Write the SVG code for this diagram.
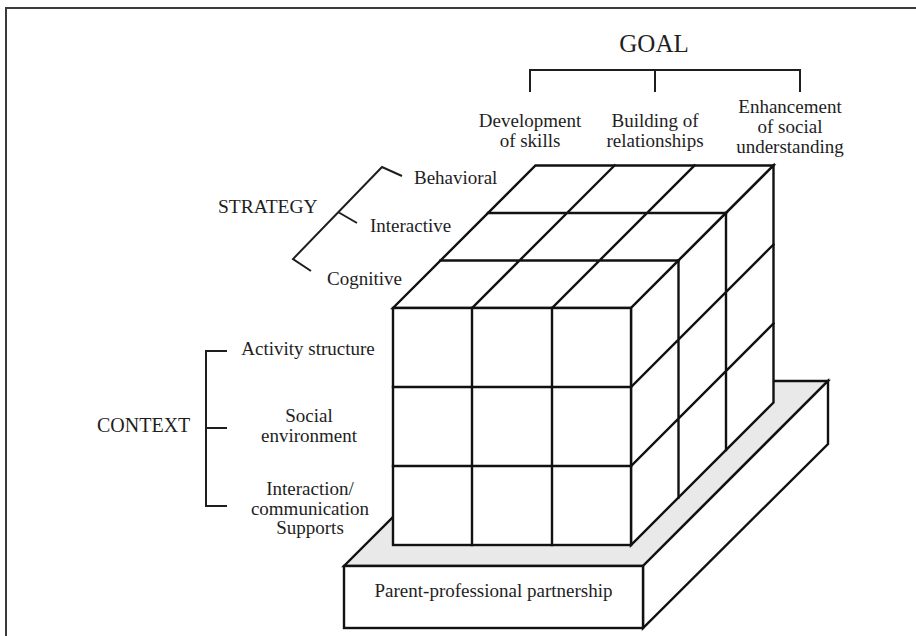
<svg xmlns="http://www.w3.org/2000/svg" width="916" height="636" viewBox="0 0 916 636">
  <style>
    .lbl { font-family: "Liberation Serif", "DejaVu Serif", serif; font-size: 19px; fill: #1e1e1e; }
    .mid { text-anchor: middle; }
    .head { font-family: "Liberation Serif", "DejaVu Serif", serif; fill: #1e1e1e; }
    .edge { fill: none; stroke: #111; stroke-width: 2.4; stroke-linejoin: miter; stroke-linecap: square; }
    .brk { fill: none; stroke: #1e1e1e; stroke-width: 2; }
    .face { fill: #ffffff; stroke: #111; stroke-width: 2.4; stroke-linejoin: miter; }
    .ledge { fill: #e9e9e9; stroke: #111; stroke-width: 2.4; stroke-linejoin: miter; }
  </style>

  <rect x="0" y="0" width="916" height="636" fill="#ffffff"/>
  <!-- page frame -->
  <path d="M6,636 V8 H916" fill="none" stroke="#3a3a3a" stroke-width="2"/>

  <!-- base platform -->
  <g id="base">
    <polygon class="ledge" points="344,566 643,566 828,381 529,381"/>
    <polygon class="face" points="643,566 828,381 828,444 643,628"/>
    <rect class="face" x="344" y="566" width="299" height="62"/>
    <text class="lbl mid" x="493.5" y="597">Parent-professional partnership</text>
  </g>

  <!-- 3x3x3 cube -->
  <g id="cube">
    <!-- faces -->
    <polygon class="face" points="393,308 631,308 773.5,165.5 535.5,165.5"/>
    <polygon class="face" points="631,308 773.5,165.5 773.5,402.5 631,545"/>
    <rect class="face" x="393" y="308" width="238" height="237"/>
    <!-- front face grid -->
    <path class="edge" d="M472,308 V545 M552,308 V545 M393,387 H631 M393,466 H631"/>
    <!-- top face grid -->
    <path class="edge" d="M440.5,260.5 H678.5 M488,213 H726 M472,308 L614.5,165.5 M552,308 L694.5,165.5"/>
    <!-- right face grid -->
    <path class="edge" d="M678.5,260.5 V497.5 M726,213 V450 M631,387 L773.5,244.5 M631,466 L773.5,323.5"/>
  </g>

  <!-- goal header -->
  <g id="goal">
    <text class="head mid" x="654" y="52" font-size="25">GOAL</text>
    <text class="lbl mid" x="530" y="127">Development</text>
    <text class="lbl mid" x="530" y="147">of skills</text>
    <text class="lbl mid" x="655" y="127">Building of</text>
    <text class="lbl mid" x="655" y="147">relationships</text>
    <text class="lbl mid" x="790" y="113">Enhancement</text>
    <text class="lbl mid" x="790" y="133">of social</text>
    <text class="lbl mid" x="790" y="153">understanding</text>
  </g>

  <!-- strategy labels -->
  <g id="strategy">
    <text class="head" x="218" y="213" font-size="19.5">STRATEGY</text>
    <text class="lbl" x="414" y="184">Behavioral</text>
    <text class="lbl" x="370" y="232">Interactive</text>
    <text class="lbl" x="327" y="285">Cognitive</text>
  </g>

  <!-- context labels -->
  <g id="context">
    <text class="head" x="97" y="432" font-size="20">CONTEXT</text>
    <text class="lbl mid" x="308" y="355">Activity structure</text>
    <text class="lbl mid" x="309" y="422">Social</text>
    <text class="lbl mid" x="309" y="442">environment</text>
    <text class="lbl mid" x="310" y="495">Interaction/</text>
    <text class="lbl mid" x="310" y="515">communication</text>
    <text class="lbl mid" x="310" y="534">Supports</text>
  </g>

  <!-- brackets -->
  <g id="connectors">
    <path class="brk" d="M530,92 V70 H800 V92 M655,70 V92"/>
    <path class="brk" d="M402,176 L382,167 L293,259 L311,271 M338,212 L357,223"/>
    <path class="brk" d="M227,351 H206 V506 H227 M206,428 H227"/>
  </g>
</svg>
